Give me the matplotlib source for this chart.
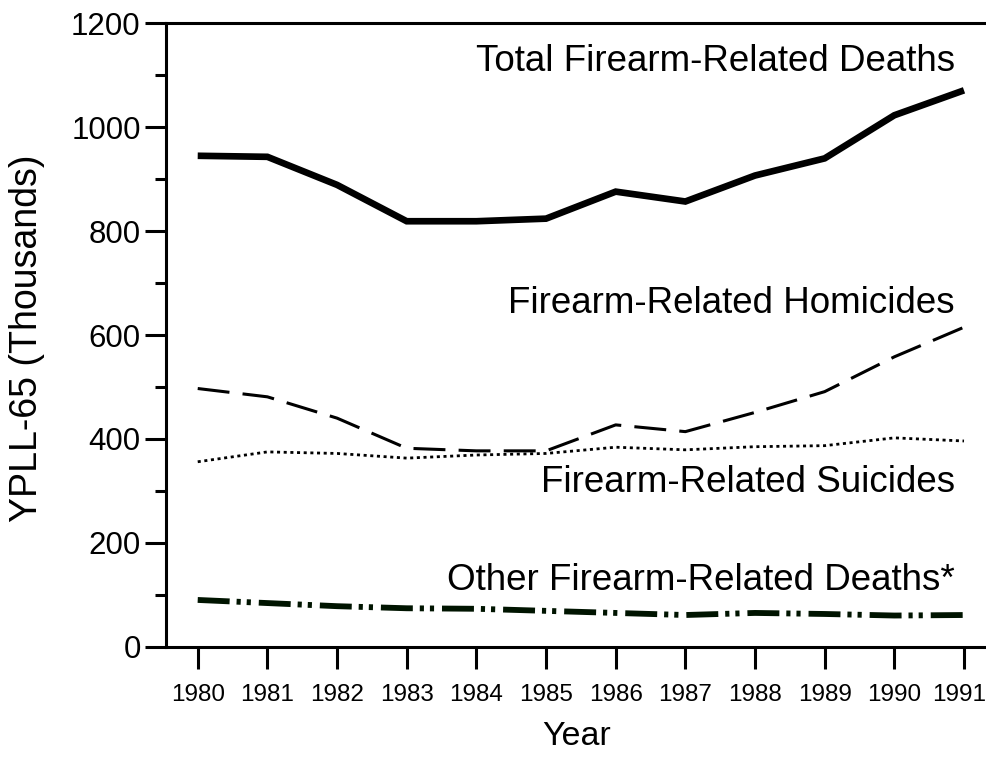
import matplotlib
matplotlib.use("Agg")
import matplotlib.pyplot as plt
import matplotlib.transforms as mtransforms
from matplotlib.ticker import MultipleLocator

plt.rcParams['font.family'] = ['Liberation Sans', 'DejaVu Sans']
plt.rcParams['lines.scale_dashes'] = False

years = [1980, 1981, 1982, 1983, 1984, 1985, 1986, 1987, 1988, 1989, 1990, 1991]
total = [945, 943, 889, 819, 819, 824, 876, 857, 907, 940, 1023, 1071]
homicides = [497, 481, 440, 382, 377, 377, 427, 414, 451, 491, 558, 615]
suicides = [356, 375, 372, 363, 369, 372, 384, 379, 385, 387, 402, 396]
other = [90, 84, 78, 74, 73, 69, 65, 61, 65, 63, 60, 61]

labels = ["Total Firearm-Related Deaths", "Firearm-Related Homicides",
          "Firearm-Related Suicides", "Other Firearm-Related Deaths*"]
label_y = [1109, 642, 298, 109]

fig = plt.figure(figsize=(9.87, 7.57), dpi=100)
ax = fig.add_axes([0.1679, 0.1457, 1.0 - 0.1679, 0.9692 - 0.1457])

ax.plot(years, total, color='black', lw=4.8, solid_capstyle='butt', solid_joinstyle='miter')
ax.plot(years, homicides, color='black', lw=2.2, dashes=(23, 9.5), dash_capstyle='butt')
ax.plot(years, suicides, color='black', lw=2.0, dashes=(2.2, 2.6), dash_capstyle='butt')
ax.plot(years, other, color='#001400', lw=4.2, dashes=(23, 5, 3, 4.3, 3, 5.7), dash_capstyle='butt')

xr = 1980 + (955 - 197.7) / 69.66
for lab, yv in zip(labels, label_y):
    ax.text(xr, yv, lab, ha='right', va='baseline', fontsize=26.5, color='black')

ax.set_xlim(1980 - 32.0 / 69.66, 1991 + 23.0 / 69.66)
ax.set_ylim(0, 1200)
ax.set_xticks(years)
ax.set_xticklabels([str(y) for y in years])
ax.set_yticks(range(0, 1201, 200))
ax.yaxis.set_minor_locator(MultipleLocator(100))

for s in ['left', 'bottom', 'top']:
    ax.spines[s].set_linewidth(2.2)
ax.spines['right'].set_visible(False)

ax.tick_params(axis='y', which='major', length=15, width=2.2, labelsize=22.5, pad=3, direction='out')
ax.tick_params(axis='y', which='minor', length=7.7, width=2.2, direction='out')
ax.tick_params(axis='x', which='major', length=16, width=2.2, labelsize=17.5, pad=11, direction='out')

# nudge the last year label so it stays inside the figure
last = ax.get_xticklabels()[-1]
last.set_transform(last.get_transform() + mtransforms.ScaledTranslation(-5 / 100, 0, fig.dpi_scale_trans))

ax.set_ylabel("YPLL-65 (Thousands)", fontsize=27)
ax.yaxis.set_label_coords(-0.147, 0.495)
ax.set_xlabel("Year", fontsize=24.5, labelpad=11)

fig.savefig("out.png", dpi=100)
